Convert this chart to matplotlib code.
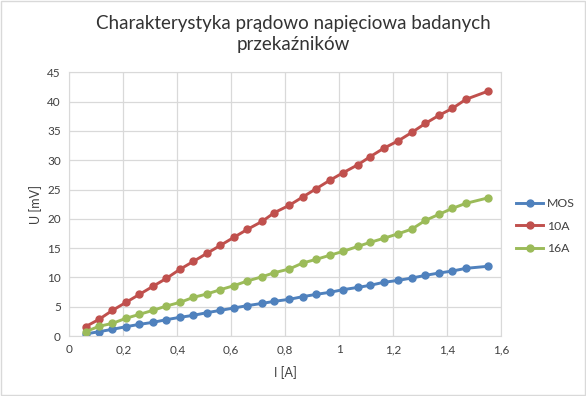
import matplotlib
matplotlib.use("Agg")
import matplotlib.pyplot as plt
from matplotlib.ticker import FuncFormatter, MultipleLocator

plt.rcParams["font.family"] = ["Lato", "DejaVu Sans"]

# prąd [A]
current = [0.06, 0.11, 0.16, 0.21, 0.26, 0.31, 0.36, 0.41, 0.46, 0.51,
           0.56, 0.61, 0.66, 0.715, 0.76, 0.815, 0.865, 0.915, 0.965, 1.015,
           1.07, 1.115, 1.165, 1.22, 1.27, 1.32, 1.37, 1.42, 1.47, 1.55]

# napięcie [mV]
u_mos = [0.34, 0.74, 1.14, 1.59, 1.99, 2.33, 2.79, 3.19, 3.53, 3.98,
         4.38, 4.78, 5.18, 5.57, 5.92, 6.26, 6.71, 7.11, 7.45, 7.91,
         8.30, 8.65, 9.16, 9.50, 9.90, 10.35, 10.75, 11.09, 11.55, 11.89]
u_10a = [1.59, 2.84, 4.38, 5.74, 7.11, 8.48, 9.84, 11.38, 12.74, 14.11,
         15.47, 16.84, 18.20, 19.57, 21.05, 22.30, 23.72, 25.14, 26.56, 27.87,
         29.24, 30.60, 32.03, 33.33, 34.76, 36.29, 37.66, 38.85, 40.39, 41.75]
u_16a = [0.74, 1.65, 2.16, 3.02, 3.70, 4.38, 5.12, 5.74, 6.60, 7.17,
         7.91, 8.59, 9.39, 10.12, 10.81, 11.43, 12.46, 13.08, 13.77, 14.45,
         15.30, 15.98, 16.67, 17.46, 18.26, 19.74, 20.76, 21.79, 22.64, 23.55]

series = [("MOS", u_mos, "#4F81BD"), ("10A", u_10a, "#C0504D"), ("16A", u_16a, "#9BBB59")]

fig = plt.figure(figsize=(5.86, 3.96), dpi=100)
fig.patches.append(plt.Rectangle((0.001, 0.002), 0.997, 0.995, transform=fig.transFigure,
                                 fill=False, edgecolor="#D9D9D9", linewidth=1))
ax = fig.add_axes([0.1183, 0.1515, 0.7367, 0.6659])

for name, vals, col in series:
    ax.plot(current, vals, color=col, linewidth=2.1, marker="o", markersize=5, label=name)

ax.set_xlim(0, 1.6)
ax.set_ylim(0, 45)
ax.xaxis.set_major_locator(MultipleLocator(0.2))
ax.yaxis.set_major_locator(MultipleLocator(5))
ax.xaxis.set_major_formatter(FuncFormatter(lambda v, p: f"{v:g}".replace(".", ",")))
ax.grid(color="#D9D9D9", linewidth=0.9)
ax.set_axisbelow(True)
for s in ax.spines.values():
    s.set_color("#D9D9D9")
ax.tick_params(length=0, labelsize=8.5, colors="#404040", pad=6)

ax.set_xlabel("I [A]", fontsize=9, color="#404040", labelpad=8)
ax.set_ylabel("U [mV]", fontsize=9, color="#404040", labelpad=4)

fig.text(0.5, 0.915, "Charakterystyka prądowo napięciowa badanych\nprzekaźników",
         ha="center", va="center", fontsize=13.5, color="#333333", linespacing=1.3)

ax.legend(loc="center left", bbox_to_anchor=(1.01, 0.417), frameon=False, fontsize=8.8,
          handlelength=2.2, labelspacing=0.95, handletextpad=0.3, labelcolor="#404040")

fig.savefig("out.png", dpi=100)
